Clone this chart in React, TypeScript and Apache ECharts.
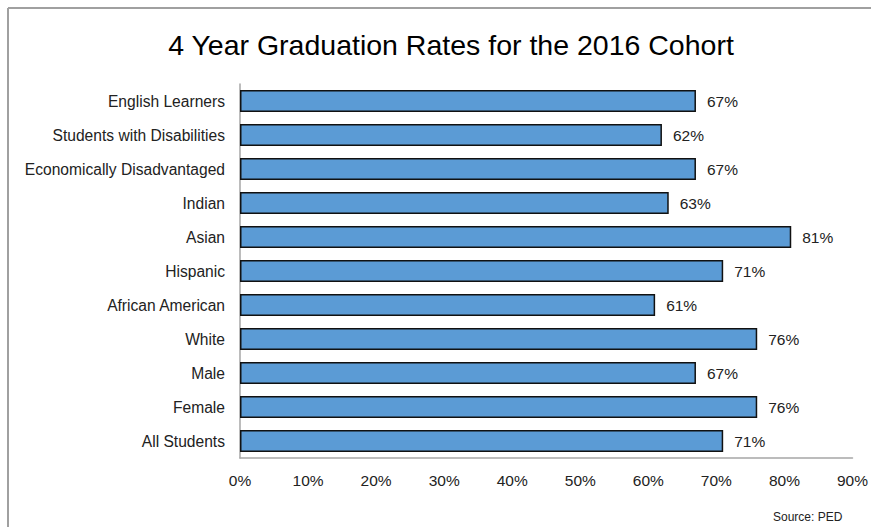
import React, { useEffect, useRef } from "react";
import * as echarts from "echarts";

const categories = [
  "English Learners",
  "Students with Disabilities",
  "Economically Disadvantaged",
  "Indian",
  "Asian",
  "Hispanic",
  "African American",
  "White",
  "Male",
  "Female",
  "All Students",
];
const values = [67, 62, 67, 63, 81, 71, 61, 76, 67, 76, 71];
const xTicks = [0, 10, 20, 30, 40, 50, 60, 70, 80, 90];

const FONT = "'Liberation Sans', Arial, sans-serif";

export default function App() {
  const ref = useRef<HTMLDivElement>(null);
  useEffect(() => {
    const chart = echarts.init(ref.current!, undefined, { renderer: "svg" });
    chart.setOption({
      animation: false,
      backgroundColor: "#fff",
      title: {
        text: "4 Year Graduation Rates for the 2016 Cohort",
        left: 446,
        textAlign: "center",
        top: 25,
        textStyle: { fontFamily: FONT, fontSize: 28.5, fontWeight: "normal", color: "#000" },
      },
      grid: { left: 240, right: 18, top: 84, bottom: 69, containLabel: false },
      xAxis: {
        type: "value",
        min: xTicks[0],
        max: xTicks[xTicks.length - 1],
        interval: 10,
        axisLine: { show: true, lineStyle: { color: "#a6a6a6", width: 1.5 } },
        axisTick: { show: false },
        splitLine: { show: false },
        axisLabel: {
          formatter: (v: number) => v + "%",
          fontFamily: FONT,
          fontSize: 15.5,
          color: "#222",
          margin: 14,
        },
      },
      yAxis: {
        type: "category",
        data: categories,
        inverse: true,
        axisLine: { show: true, lineStyle: { color: "#a6a6a6", width: 1.5 } },
        axisTick: { show: false },
        axisLabel: { fontFamily: FONT, fontSize: 15.6, color: "#222", margin: 15 },
      },
      series: [
        {
          type: "bar",
          data: values,
          barCategoryGap: "36%",
          itemStyle: { color: "#5b9bd5", borderColor: "#111", borderWidth: 1.5 },
          label: {
            show: true,
            position: "right",
            distance: 11,
            formatter: (p: any) => p.value + "%",
            fontFamily: FONT,
            fontSize: 15.5,
            color: "#222",
          },
        },
      ],
      graphic: [
        { type: "line", shape: { x1: 8, y1: 8, x2: 871, y2: 8 }, style: { stroke: "#a0a0a0", lineWidth: 2 } },
        { type: "line", shape: { x1: 8, y1: 8, x2: 8, y2: 527 }, style: { stroke: "#a0a0a0", lineWidth: 2 } },
        {
          type: "text",
          left: 773,
          top: 511,
          style: { text: "Source: PED", fontFamily: FONT, fontSize: 12, fill: "#222" },
        },
      ],
    });
    return () => chart.dispose();
  }, []);
  return (
    <div
      ref={ref}
      style={{ position: "fixed", left: 0, top: 0, width: 871, height: 527 }}
    />
  );
}
